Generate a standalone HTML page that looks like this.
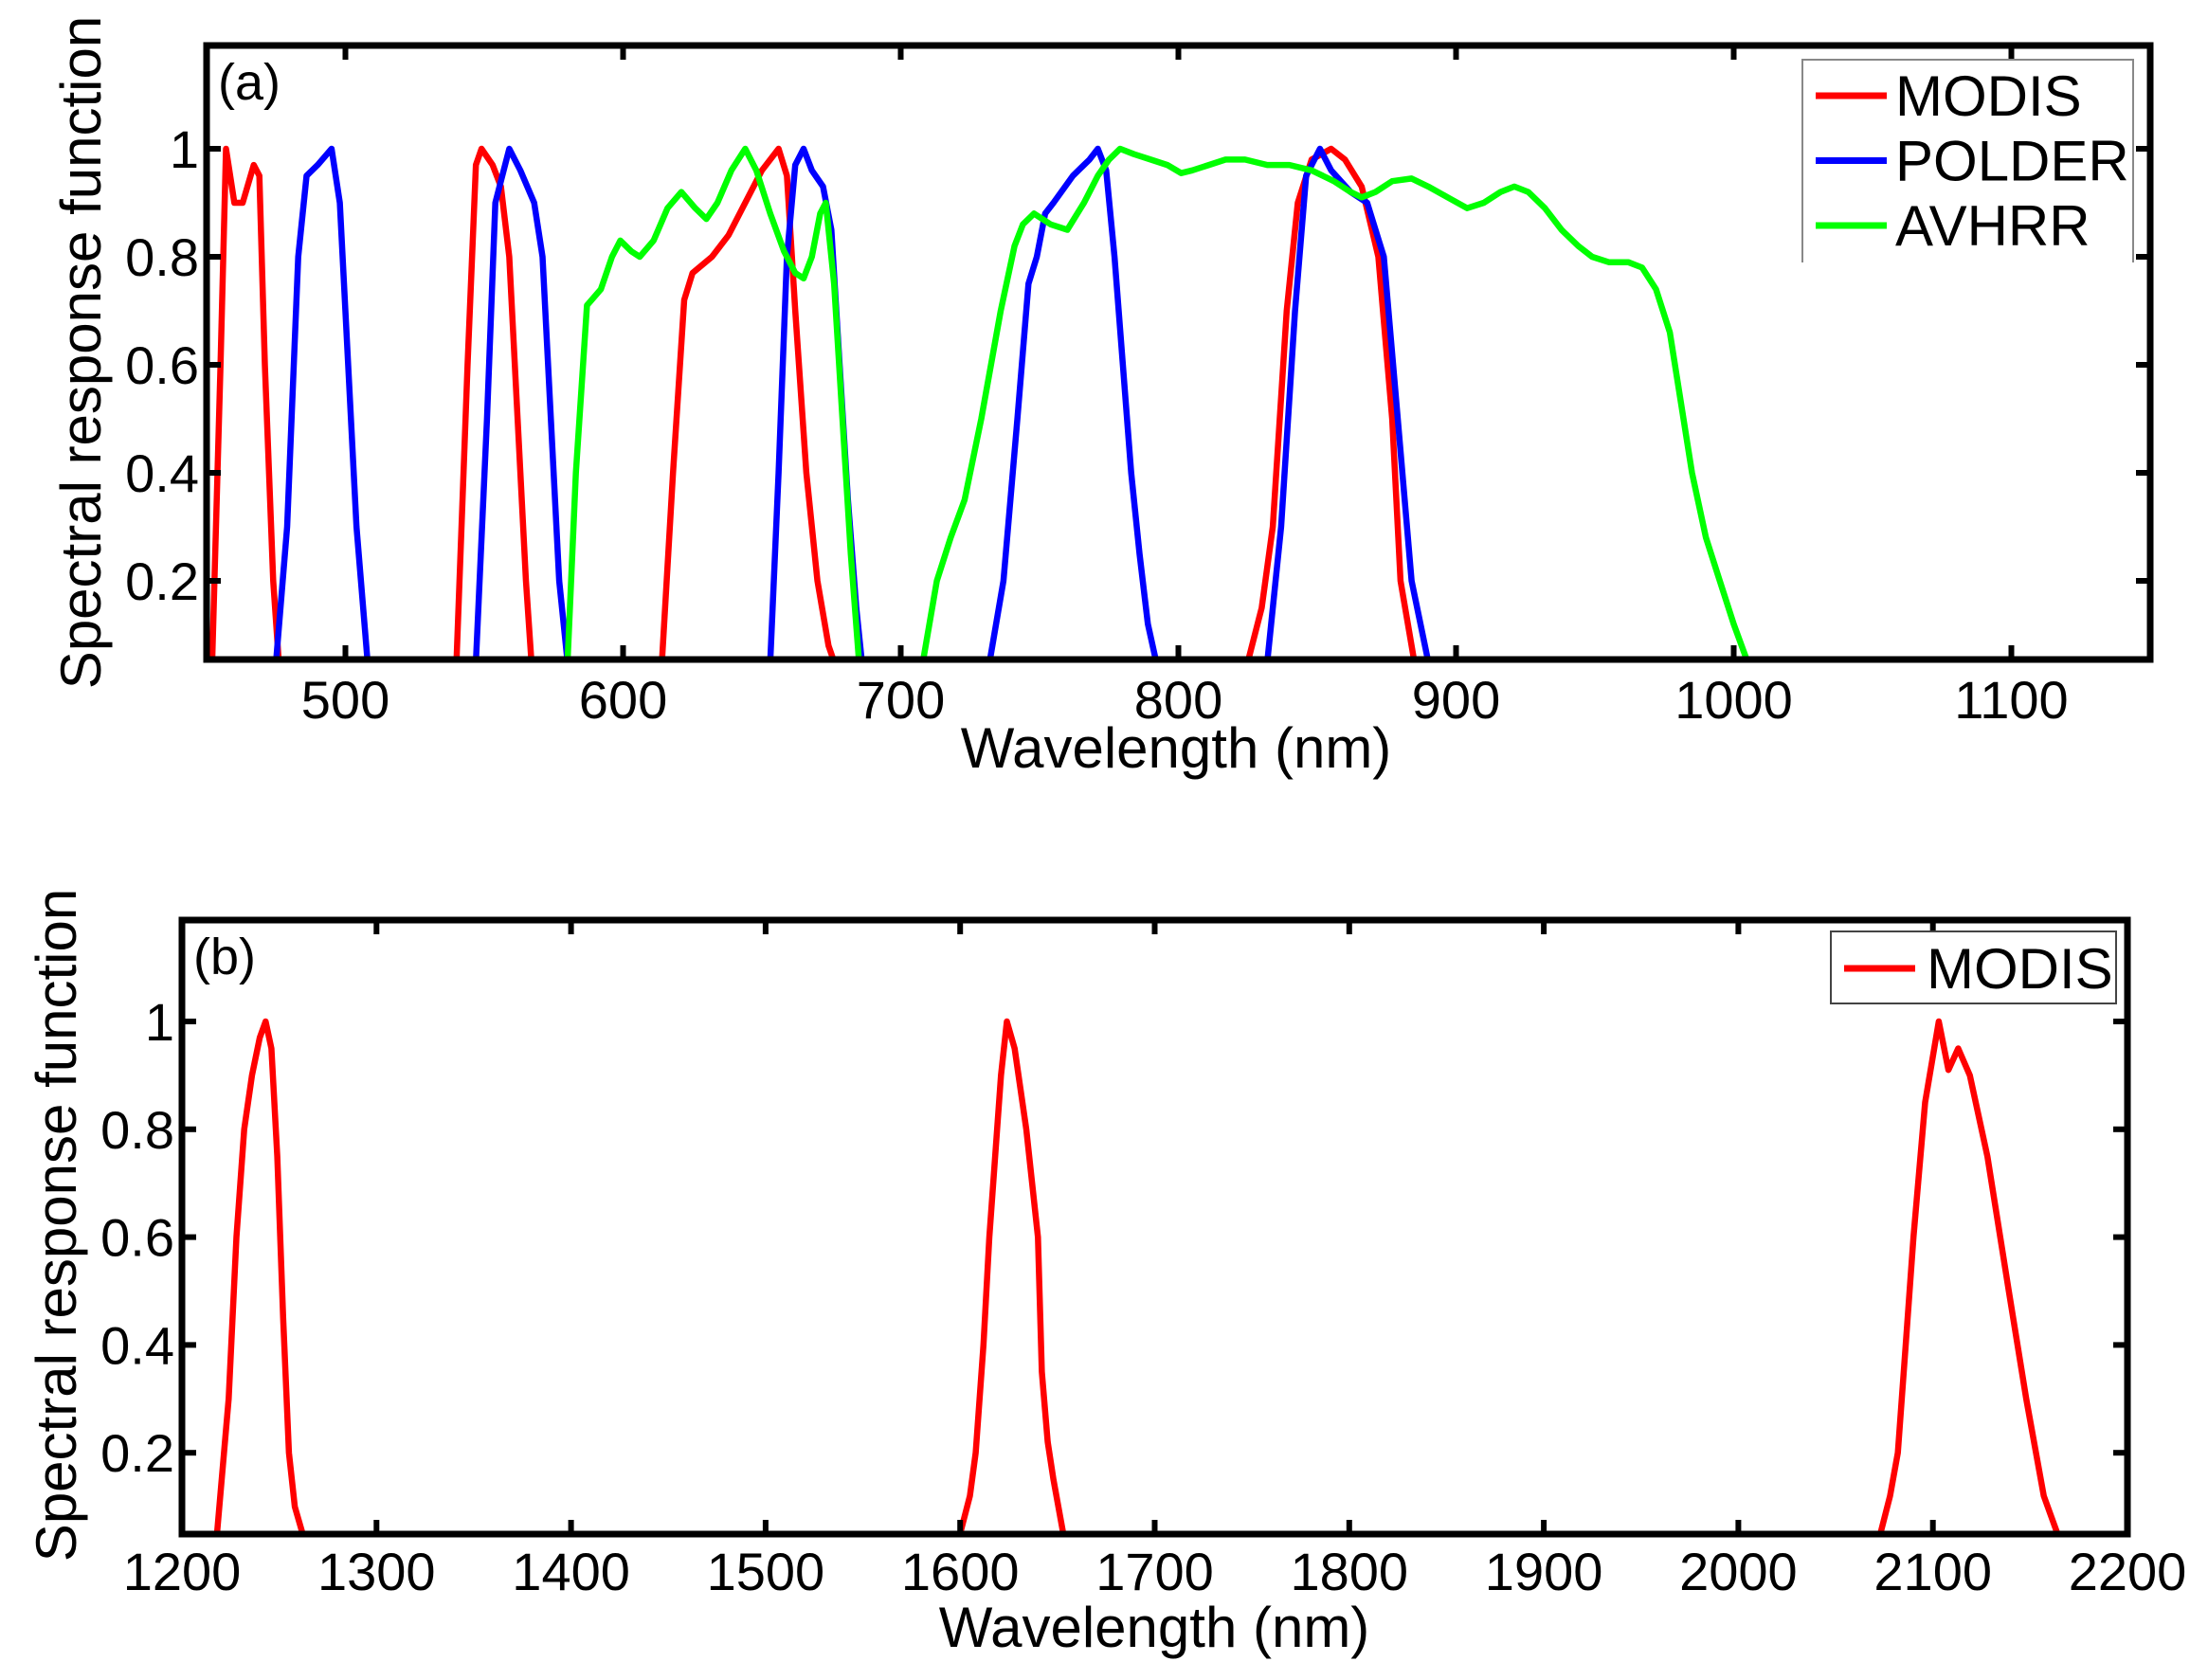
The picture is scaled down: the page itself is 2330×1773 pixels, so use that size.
<!DOCTYPE html>
<html><head><meta charset="utf-8">
<style>
html,body{margin:0;padding:0;background:#fff;}
svg{display:block;}
text{font-family:"Liberation Sans",Arial,sans-serif;fill:#000;}
</style></head>
<body>
<svg id="fig" width="2330" height="1773" viewBox="0 0 2330 1773" xmlns="http://www.w3.org/2000/svg"></svg>
<script>
// ---- Panel (a) data ----
const aXTicks = [500,600,700,800,900,1000,1100];
const aYTicks = [0.2,0.4,0.6,0.8,1];
const aYTickLabels = ["0.2","0.4","0.6","0.8","1"];
const modisA1 = [[452,0.05],[455,0.6],[457,1.0],[460,0.9],[463,0.9],[467,0.97],[469,0.95],[471,0.6],[474,0.2],[476,0.05]];
const modisA2 = [[540,0.05],[544,0.6],[547,0.97],[549,1.0],[553,0.97],[556,0.93],[559,0.8],[562,0.5],[565,0.2],[567,0.05]];
const modisA3 = [[614,0.05],[618,0.4],[622,0.72],[625,0.77],[632,0.8],[638,0.84],[644,0.9],[650,0.96],[656,1.0],[659,0.95],[662,0.7],[666,0.4],[670,0.2],[674,0.08],[676,0.05]];
const modisA4 = [[825,0.05],[830,0.15],[834,0.3],[839,0.7],[843,0.9],[848,0.98],[855,1.0],[860,0.98],[866,0.93],[872,0.8],[877,0.5],[880,0.2],[885,0.05]];
const polderA1 = [[475,0.05],[479,0.3],[483,0.8],[486,0.95],[490,0.97],[495,1.0],[498,0.9],[501,0.6],[504,0.3],[508,0.05]];
const polderA2 = [[547,0.05],[551,0.5],[554,0.9],[559,1.0],[563,0.96],[568,0.9],[571,0.8],[574,0.5],[577,0.2],[580,0.05]];
const polderA3 = [[653,0.05],[656,0.4],[659,0.8],[662,0.97],[665,1.0],[668,0.96],[672,0.93],[675,0.85],[678,0.6],[681,0.35],[684,0.15],[686,0.05]];
const polderA4 = [[732,0.05],[737,0.2],[742,0.5],[746,0.75],[749,0.8],[752,0.88],[755,0.9],[762,0.95],[768,0.98],[771,1.0],[774,0.96],[777,0.8],[780,0.6],[783,0.4],[786,0.25],[789,0.12],[792,0.05]];
const polderA5 = [[832,0.05],[837,0.3],[842,0.7],[846,0.95],[851,1.0],[855,0.96],[862,0.92],[868,0.9],[874,0.8],[879,0.5],[884,0.2],[890,0.05]];
const avhrrA1 = [[580,0.05],[583,0.4],[587,0.71],[592,0.74],[596,0.8],[599,0.83],[603,0.81],[606,0.8],[611,0.83],[616,0.89],[621,0.92],[626,0.89],[630,0.87],[634,0.9],[639,0.96],[644,1.0],[648,0.96],[653,0.88],[658,0.81],[662,0.77],[665,0.76],[668,0.8],[671,0.88],[673,0.9],[676,0.75],[679,0.5],[682,0.25],[685,0.05]];
const avhrrA2 = [[708,0.05],[713,0.2],[718,0.28],[723,0.35],[729,0.5],[736,0.7],[741,0.82],[744,0.86],[748,0.88],[754,0.86],[760,0.85],[766,0.9],[771,0.95],[775,0.98],[779,1.0],[784,0.99],[790,0.98],[796,0.97],[801,0.955],[805,0.96],[811,0.97],[817,0.98],[824,0.98],[832,0.97],[840,0.97],[848,0.96],[856,0.94],[862,0.92],[866,0.91],[871,0.92],[877,0.94],[884,0.945],[890,0.93],[897,0.91],[904,0.89],[910,0.9],[916,0.92],[921,0.93],[926,0.92],[932,0.89],[938,0.85],[944,0.82],[949,0.8],[955,0.79],[962,0.79],[967,0.78],[972,0.74],[977,0.66],[981,0.53],[985,0.4],[990,0.28],[995,0.2],[1000,0.12],[1005,0.05]];
const modisASeries = [modisA1,modisA2,modisA3,modisA4];
const polderASeries = [polderA1,polderA2,polderA3,polderA4,polderA5];
const avhrrASeries = [avhrrA1,avhrrA2];

// ---- Panel (b) data ----
const bXTicks = [1200,1300,1400,1500,1600,1700,1800,1900,2000,2100,2200];
const bYTicks = [0.2,0.4,0.6,0.8,1];
const bYTickLabels = ["0.2","0.4","0.6","0.8","1"];
const modisB1 = [[1218,0.05],[1224,0.3],[1228,0.6],[1232,0.8],[1236,0.9],[1240,0.97],[1243,1.0],[1246,0.95],[1249,0.75],[1252,0.45],[1255,0.2],[1258,0.1],[1262,0.05]];
const modisB2 = [[1600,0.05],[1605,0.12],[1608,0.2],[1612,0.4],[1615,0.6],[1621,0.9],[1624,1.0],[1628,0.95],[1634,0.8],[1640,0.6],[1642,0.35],[1645,0.22],[1648,0.15],[1653,0.05]];
const modisB3 = [[2073,0.05],[2078,0.12],[2082,0.2],[2086,0.4],[2090,0.6],[2096,0.85],[2103,1.0],[2108,0.91],[2113,0.95],[2119,0.9],[2128,0.75],[2139,0.5],[2148,0.3],[2157,0.12],[2164,0.05]];
const modisBSeries = [modisB1,modisB2,modisB3];

const NS = "http://www.w3.org/2000/svg";
const svg = document.getElementById('fig');
function mk(tag, attrs, parent){
  const e = document.createElementNS(NS, tag);
  for (const k in attrs) e.setAttribute(k, attrs[k]);
  (parent||svg).appendChild(e);
  return e;
}

function drawPanel(p){
  const g = mk('g', {});
  
  
  const sx = v => p.x0 + (v - p.xmin) / (p.xmax - p.xmin) * (p.x1 - p.x0);
  const sy = v => p.yRef1 - (v - 1) * p.yPerUnit;
  const cp = mk('clipPath', {id: p.id + '-clip'}, g);
  mk('rect', {x: p.x0, y: p.y0, width: p.x1 - p.x0, height: p.y1 - p.y0}, cp);
  const sg = mk('g', {'clip-path': 'url(#' + p.id + '-clip)'}, g);
  p.series.forEach(s => {
    s.data.forEach((seg, i) => {
      const d = seg.map((pt, j) => (j ? 'L' : 'M') + sx(pt[0]).toFixed(1) + ',' + sy(pt[1]).toFixed(1)).join(' ');
      const path = mk('path', {d: d, fill: 'none', stroke: s.color, 'stroke-width': 6.5, 'stroke-linejoin': 'round'}, sg);
      
      
    });
  });
  const tk = 15;
  p.xTicks.forEach(t => {
    const x = sx(t);
    mk('line', {x1: x, y1: p.y1, x2: x, y2: p.y1 - tk, stroke: '#000', 'stroke-width': 6}, g);
    mk('line', {x1: x, y1: p.y0, x2: x, y2: p.y0 + tk, stroke: '#000', 'stroke-width': 6}, g);
    const lb = mk('text', {x: x, y: p.xLabelY, 'font-size': 56, 'text-anchor': 'middle'}, g);
    lb.textContent = String(t);
    
    
  });
  p.yTicks.forEach((t, i) => {
    const y = sy(t);
    mk('line', {x1: p.x0, y1: y, x2: p.x0 + tk, y2: y, stroke: '#000', 'stroke-width': 6}, g);
    mk('line', {x1: p.x1, y1: y, x2: p.x1 - tk, y2: y, stroke: '#000', 'stroke-width': 6}, g);
    const lb = mk('text', {x: p.x0 - 8, y: y + 20, 'font-size': 56, 'text-anchor': 'end'}, g);
    lb.textContent = p.yTickLabels[i];
    
    
  });
  const fr = mk('rect', {x: p.x0, y: p.y0, width: p.x1 - p.x0, height: p.y1 - p.y0, fill: 'none', stroke: '#000', 'stroke-width': 7}, g);
  
  
  const pl = mk('text', {x: p.x0 + 12, y: p.y0 + 57, 'font-size': 54}, g);
  pl.textContent = p.label;
  
  
  const xt = mk('text', {x: p.xTitleX, y: p.xTitleY, 'font-size': 60, 'text-anchor': 'middle'}, g);
  xt.textContent = 'Wavelength (nm)';
  
  
  const yt = mk('text', {x: 0, y: 0, 'font-size': 60, 'text-anchor': 'middle', transform: 'translate(' + p.yTitleX + ',' + p.yTitleY + ') rotate(-90)'}, g);
  yt.textContent = 'Spectral response function';
  
  
  const lg = mk('g', {}, g);
  
  
  const L = p.legend;
  if (L.open) {
    mk('path', {d: 'M' + L.x0 + ',' + L.y1 + ' V' + L.y0 + ' H' + L.x1 + ' V' + L.y1, fill: 'none', stroke: '#888', 'stroke-width': 2}, lg);
  } else {
    mk('rect', {x: L.x0, y: L.y0, width: L.x1 - L.x0, height: L.y1 - L.y0, fill: '#fff', stroke: '#444', 'stroke-width': 2}, lg);
  }
  p.series.forEach((s, i) => {
    const y = L.firstY + i * L.step;
    const ln = mk('line', {x1: L.lx0, y1: y, x2: L.lx1, y2: y, stroke: s.color, 'stroke-width': 7}, lg);
    
    
    const tx = mk('text', {x: L.tx, y: y + 21, 'font-size': 60}, lg);
    tx.textContent = s.label;
    
    
  });
}

drawPanel({
  id: 'pa', name: 'panel-a', label: '(a)',
  x0: 218, x1: 2269, y0: 48, y1: 696, xmin: 450, xmax: 1150,
  yRef1: 157, yPerUnit: 570,
  xTicks: aXTicks, yTicks: aYTicks, yTickLabels: aYTickLabels,
  xLabelY: 758, xTitleX: 1241, xTitleY: 810, yTitleX: 106, yTitleY: 372,
  series: [
    {key: 'modis', label: 'MODIS', color: '#ff0000', data: modisASeries},
    {key: 'polder', label: 'POLDER', color: '#0000ff', data: polderASeries},
    {key: 'avhrr', label: 'AVHRR', color: '#00ff00', data: avhrrASeries}
  ],
  legend: {open: true, x0: 1902, x1: 2251, y0: 63, y1: 277, lx0: 1916, lx1: 1991, tx: 2000, firstY: 101, step: 68.5}
});

drawPanel({
  id: 'pb', name: 'panel-b', label: '(b)',
  x0: 192, x1: 2245, y0: 971, y1: 1619, xmin: 1200, xmax: 2200,
  yRef1: 1078, yPerUnit: 569,
  xTicks: bXTicks, yTicks: bYTicks, yTickLabels: bYTickLabels,
  xLabelY: 1678, xTitleX: 1218, xTitleY: 1738, yTitleX: 80, yTitleY: 1293,
  series: [
    {key: 'modis', label: 'MODIS', color: '#ff0000', data: modisBSeries}
  ],
  legend: {open: false, x0: 1932, x1: 2233, y0: 983, y1: 1059, lx0: 1946, lx1: 2021, tx: 2033, firstY: 1022, step: 68}
});
</script>
</body></html>
